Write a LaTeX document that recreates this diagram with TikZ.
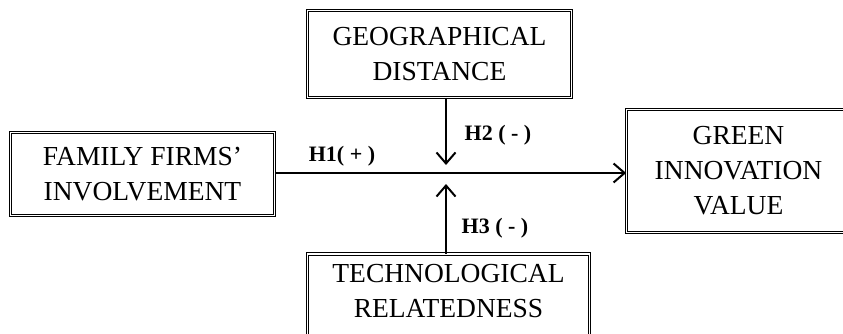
\documentclass[tikz,border=0pt]{standalone}
\usepackage{fontspec}
\setmainfont{Liberation Serif}
\usetikzlibrary{arrows.meta}
\begin{document}
\begin{tikzpicture}[x=1pt,y=-1pt,
  vbox/.style={draw, double, line width=0.8pt, double distance=1.6pt, inner sep=0pt, align=center,
    font=\fontsize{27.5}{35}\selectfont},
  conn/.style={line width=2pt, -{Straight Barb[length=11pt,width=19pt,line width=2pt]}},
  hyp/.style={font=\fontsize{22}{26}\selectfont\bfseries, inner sep=0pt}]
\useasboundingbox (0,0) rectangle (843,334);
\node[vbox, minimum width=264pt, minimum height=83pt] (ff) at (142.5,174) {FAMILY FIRMS'\\INVOLVEMENT};
\node[vbox, minimum width=264pt, minimum height=87pt] (gd) at (439.5,54) {GEOGRAPHICAL\\DISTANCE};
\node[vbox, minimum width=224pt, minimum height=123pt] (gi) at (738.5,171) {GREEN\\INNOVATION\\VALUE};
\node[vbox, minimum width=282pt, minimum height=86pt] (tr) at (448.5,297) {};
\node[align=center, inner sep=0pt, font=\fontsize{27.5}{35}\selectfont] (trt) at (448.5,291) {TECHNOLOGICAL\\RELATEDNESS};
\coordinate (m) at (446,173);
\coordinate (dt) at (446,165);
\coordinate (ut) at (446,184);
\draw[conn] (ff.east |- m) -- (gi.west |- m);
\draw[conn] (gd.south -| m) -- (dt);
\draw[conn] (tr.north -| m) -- (ut);
\node[hyp] (h1) at (342,156) {H1( + )};
\node[hyp] (h2) at (498,135) {H2 ( - )};
\node[hyp] (h3) at (495,228) {H3 ( - )};
\end{tikzpicture}
\end{document}
